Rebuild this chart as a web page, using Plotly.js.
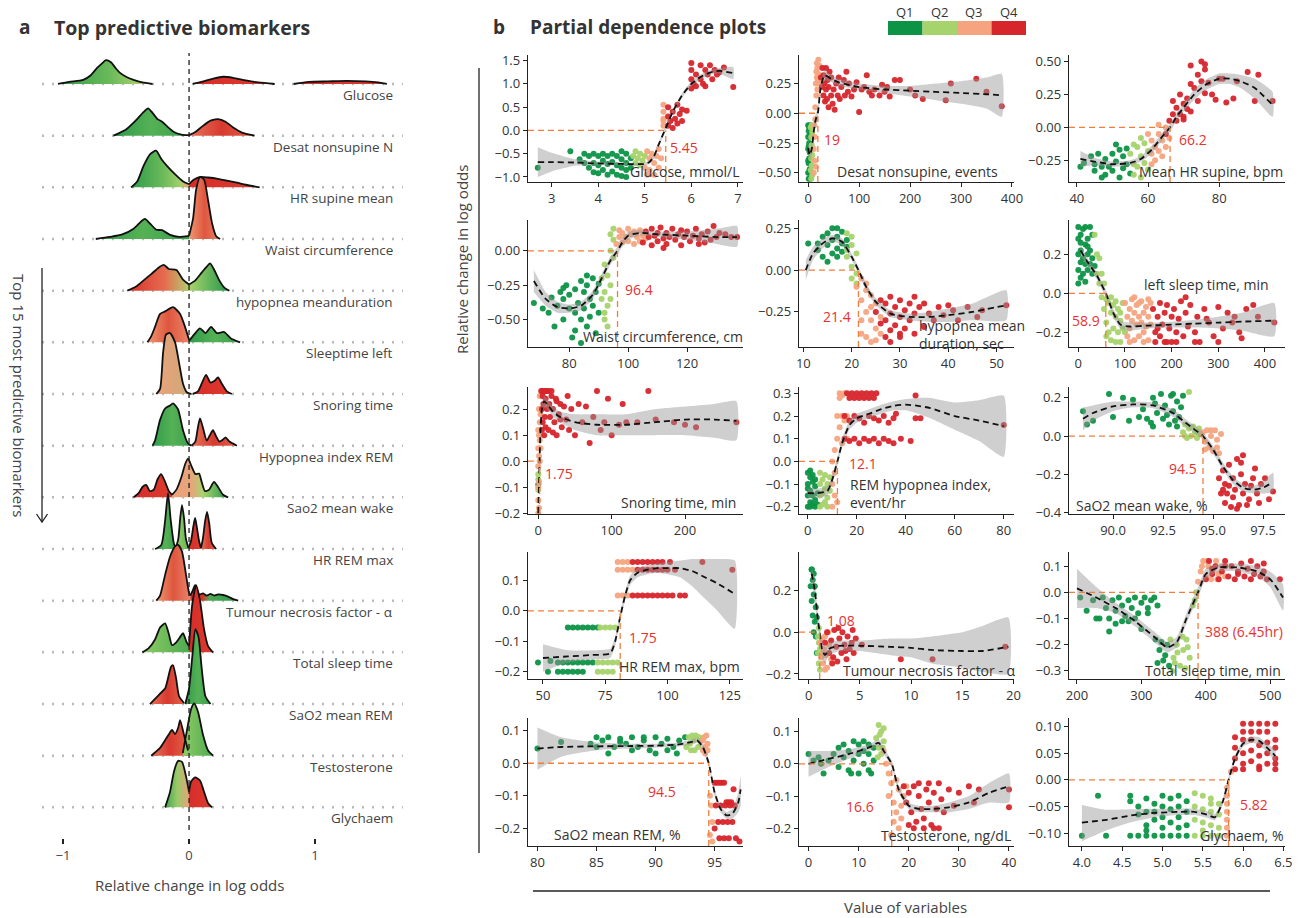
<!DOCTYPE html>
<html><head><meta charset="utf-8">
<script src="https://cdn.plot.ly/plotly-3.0.1.min.js"></script>
<style>html,body{margin:0;padding:0;background:#fff}#chart{width:1302px;height:918px}</style>
</head><body><div id="chart"></div>
<script>
// ---------------- DATA : panel a (ridgelines) ----------------
const biomarkers = ['Glucose','Desat nonsupine N','HR supine mean','Waist circumference','hypopnea meanduration','Sleeptime left','Snoring time','Hypopnea index REM','Sao2 mean wake','HR REM max','Tumour necrosis factor - \u03b1','Total sleep time','SaO2 mean REM','Testosterone','Glychaem'];
const ridgeTicks = [-1, 0, 1];
const r01a_x = [-1.04,-0.95,-0.84,-0.78,-0.73,-0.69,-0.66,-0.62,-0.58,-0.55,-0.5,-0.44,-0.37,-0.29];
const r01a_h = [0,0.04,0.08,0.17,0.31,0.4,0.46,0.42,0.3,0.22,0.14,0.08,0.03,0];
const r01b_x = [0.03,0.1,0.2,0.27,0.35,0.45,0.55,0.68];
const r01b_h = [0,0.04,0.11,0.14,0.12,0.07,0.03,0];
const r01c_x = [0.83,0.95,1.1,1.25,1.4,1.5,1.57];
const r01c_h = [0,0.04,0.05,0.06,0.05,0.03,0];
const r02a_x = [-0.6,-0.5,-0.42,-0.36,-0.325,-0.29,-0.25,-0.214,-0.17,-0.12,-0.06,0];
const r02a_h = [0,0.12,0.3,0.46,0.53,0.44,0.32,0.27,0.17,0.07,0.02,0.01];
const r02b_x = [0,0.05,0.1,0.17,0.23,0.29,0.35,0.42,0.52];
const r02b_h = [0.01,0.07,0.17,0.29,0.32,0.27,0.16,0.06,0];
const r03a_x = [-0.46,-0.41,-0.36,-0.31,-0.262,-0.22,-0.17,-0.11,-0.05,0];
const r03a_h = [0,0.12,0.42,0.64,0.71,0.55,0.4,0.25,0.12,0.06];
const r03b_x = [0,0.04,0.09,0.15,0.22,0.3,0.38,0.45,0.56];
const r03b_h = [0.06,0.15,0.2,0.19,0.17,0.13,0.09,0.05,0];
const r04a_x = [-0.74,-0.63,-0.53,-0.44,-0.38,-0.35,-0.31,-0.26,-0.214,-0.15,-0.08,0];
const r04a_h = [0,0.04,0.09,0.2,0.34,0.39,0.3,0.18,0.17,0.08,0.04,0.06];
const r04b_x = [0,0.032,0.056,0.087,0.119,0.151,0.183,0.214,0.246];
const r04b_h = [0.06,0.4,0.95,1.2,1.15,0.75,0.3,0.06,0];
const r05a_x = [-0.49,-0.42,-0.36,-0.3,-0.24,-0.2,-0.16,-0.1,-0.05,0];
const r05a_h = [0,0.08,0.2,0.32,0.45,0.5,0.42,0.4,0.22,0.12];
const r05b_x = [0,0.05,0.1,0.135,0.167,0.2,0.24,0.28,0.32];
const r05b_h = [0.12,0.2,0.35,0.45,0.53,0.4,0.2,0.06,0];
const r06a_x = [-0.33,-0.3,-0.27,-0.23,-0.19,-0.127,-0.071,-0.032,0];
const r06a_h = [0,0.12,0.3,0.55,0.6,0.68,0.55,0.3,0.05];
const r06b_x = [0,0.04,0.087,0.13,0.175,0.22,0.278,0.33,0.405];
const r06b_h = [0.03,0.15,0.27,0.18,0.3,0.18,0.2,0.08,0];
const r07a_x = [-0.26,-0.23,-0.206,-0.183,-0.151,-0.111,-0.079,-0.048,-0.016,0.02];
const r07a_h = [0,0.1,0.8,1.15,1.18,1.0,0.6,0.2,0.03,0];
const r07b_x = [0.03,0.07,0.1,0.135,0.17,0.2,0.23,0.26,0.3,0.34];
const r07b_h = [0,0.05,0.2,0.37,0.22,0.25,0.32,0.2,0.05,0];
const r08a_x = [-0.29,-0.27,-0.23,-0.19,-0.15,-0.127,-0.087,-0.048,-0.01,0.02];
const r08a_h = [0,0.1,0.5,0.72,0.78,0.82,0.7,0.3,0.05,0];
const r08b_x = [0.02,0.05,0.07,0.087,0.11,0.14,0.165,0.19,0.215,0.24,0.27,0.29,0.32,0.38];
const r08b_h = [0,0.08,0.35,0.53,0.35,0.1,0.2,0.3,0.18,0.08,0.12,0.16,0.08,0];
const r09a_x = [-0.44,-0.4,-0.37,-0.34,-0.31,-0.28,-0.25,-0.222,-0.19,-0.16,-0.135];
const r09a_h = [0,0.08,0.2,0.24,0.12,0.15,0.35,0.45,0.3,0.12,0.05];
const r09b_x = [-0.135,-0.1,-0.06,-0.03,-0.008,0.02,0.05,0.079,0.1,0.127,0.16,0.198,0.23,0.27,0.31];
const r09b_h = [0.05,0.15,0.4,0.65,0.75,0.6,0.45,0.46,0.3,0.12,0.15,0.3,0.2,0.05,0];
const r10a_x = [-0.27,-0.22,-0.19,-0.167,-0.145,-0.12,-0.105];
const r10a_h = [0,0.08,0.55,1.08,0.55,0.1,0.02];
const r10b_x = [-0.105,-0.085,-0.07,-0.056,-0.04,-0.025,-0.005];
const r10b_h = [0.02,0.2,0.6,0.85,0.6,0.2,0.02];
const r10c_x = [-0.005,0.015,0.035,0.048,0.06,0.08,0.095];
const r10c_h = [0.02,0.15,0.45,0.6,0.45,0.15,0.02];
const r10d_x = [0.095,0.11,0.128,0.143,0.16,0.18,0.215];
const r10d_h = [0.02,0.2,0.55,0.72,0.5,0.12,0];
const r11a_x = [-0.26,-0.23,-0.19,-0.151,-0.111,-0.087,-0.056,-0.024,0,0.01];
const r11a_h = [0,0.1,0.5,0.85,1.05,1.08,0.95,0.5,0.15,0.1];
const r11b_x = [0.01,0.03,0.048,0.065,0.08,0.11,0.14,0.17,0.2,0.23,0.27,0.31,0.35,0.39];
const r11b_h = [0.1,0.2,0.3,0.2,0.12,0.14,0.1,0.13,0.1,0.12,0.11,0.08,0.03,0];
const r12a_x = [-0.37,-0.32,-0.27,-0.23,-0.19,-0.16,-0.135,-0.1,-0.07,-0.048,-0.02,0.0];
const r12a_h = [0,0.08,0.25,0.48,0.56,0.35,0.14,0.2,0.3,0.37,0.2,0.12];
const r12b_x = [0.0,0.024,0.056,0.087,0.119,0.151,0.19];
const r12b_h = [0.12,0.9,1.3,1.0,0.45,0.12,0];
const r13a_x = [-0.31,-0.27,-0.23,-0.19,-0.167,-0.143,-0.127,-0.103,-0.079,-0.04];
const r13a_h = [0,0.1,0.2,0.3,0.5,0.72,0.75,0.5,0.15,0.02];
const r13b_x = [-0.03,0.0,0.025,0.05,0.075,0.1,0.13,0.17];
const r13b_h = [0,0.3,0.9,1.45,1.3,0.7,0.15,0];
const r14a_x = [-0.3,-0.23,-0.19,-0.151,-0.135,-0.111,-0.085,-0.071,-0.04,-0.008];
const r14a_h = [0,0.15,0.3,0.45,0.5,0.42,0.55,0.69,0.4,0.1];
const r14b_x = [-0.05,-0.016,0.016,0.04,0.071,0.111,0.151,0.19];
const r14b_h = [0.05,0.5,0.9,1.01,0.85,0.4,0.1,0];
const r15a_x = [-0.19,-0.151,-0.119,-0.087,-0.056,-0.024,0];
const r15a_h = [0,0.3,0.7,0.9,0.88,0.6,0.3];
const r15b_x = [0.0,0.016,0.048,0.087,0.119,0.151,0.183];
const r15b_h = [0.3,0.5,0.58,0.52,0.3,0.08,0];

// ---------------- DATA : panel b (partial dependence) ----------------
const quartiles = ['Q1','Q2','Q3','Q4'];
const variableLabels = ['Glucose, mmol/L','Desat nonsupine, events','Mean HR supine, bpm','Waist circumference, cm','hypopnea mean<br>duration, sec','left sleep time, min','Snoring time, min','REM hypopnea index,<br>event/hr','SaO2 mean wake, %','HR REM max, bpm','Tumour necrosis factor - \u03b1','Total sleep time, min','SaO2 mean REM, %','Testosterone, ng/dL','Glychaem, %'];
const thresholds = [5.45, 19, 66.2, 96.4, 21.4, 58.9, 1.75, 12.1, 94.5, 81, 1.08, 388, 94.5, 16.6, 5.82];
const thresholdLabels = ['5.45','19','66.2','96.4','21.4','58.9','1.75','12.1','94.5','1.75','1.08','388 (6.45hr)','94.5','16.6','5.82'];

// 1 Glucose
const glu_xt = [3,4,5,6,7], glu_yt = [-1,-0.5,0,0.5,1,1.5];
const glu_cx = [2.7,3.0,3.5,4.0,4.5,5.0,5.1,5.2,5.3,5.45,5.6,5.8,6.0,6.2,6.4,6.6,6.9];
const glu_cy = [-0.68,-0.68,-0.69,-0.71,-0.72,-0.72,-0.68,-0.55,-0.3,0.05,0.4,0.75,1.0,1.15,1.24,1.28,1.23];
const glu_lo = [-1.0,-0.88,-0.76,-0.75,-0.75,-0.75,-0.72,-0.6,-0.35,0.0,0.35,0.7,0.95,1.1,1.19,1.22,1.1];
const glu_hi = [-0.36,-0.48,-0.62,-0.67,-0.69,-0.69,-0.64,-0.5,-0.25,0.1,0.45,0.8,1.05,1.2,1.29,1.34,1.36];
const glu_q1x = [2.7,3.4,3.6,3.7,3.7,3.8,3.8,3.9,3.9,3.9,4.0,4.0,4.0,4.1,4.1,4.1,4.2,4.2,4.2,4.3,4.3,4.3,4.4,4.4,4.4,4.5,4.5,4.5,4.5,4.6,4.6,4.6,4.6,4.7,4.7];
const glu_q1y = [-0.8,-0.45,-0.62,-0.5,-0.7,-0.55,-0.8,-0.5,-0.7,-0.9,-0.55,-0.75,-0.92,-0.5,-0.65,-0.85,-0.55,-0.72,-0.95,-0.5,-0.68,-0.88,-0.55,-0.75,-0.95,-0.45,-0.62,-0.8,-0.98,-0.5,-0.7,-0.85,-1.0,-0.6,-0.8];
const glu_q2x = [4.75,4.8,4.8,4.85,4.9,4.9,4.95,5.0];
const glu_q2y = [-0.55,-0.45,-0.7,-0.6,-0.5,-0.75,-0.65,-0.55];
const glu_q3x = [5.0,5.05,5.05,5.1,5.1,5.15,5.2,5.2,5.25,5.3,5.3,5.35,5.4,5.4,5.4,5.4,5.4];
const glu_q3y = [-0.8,-0.45,-0.95,-0.6,-0.85,-0.5,-0.7,-0.95,-0.55,-0.4,-0.8,-0.6,0.1,0.25,0.4,0.55,0.2];
const glu_q4x = [5.5,5.5,5.5,5.55,5.6,5.6,5.65,5.7,5.7,5.75,5.8,5.8,5.9,6.0,6.0,6.0,6.0,6.05,6.1,6.1,6.2,6.2,6.25,6.3,6.3,6.35,6.4,6.45,6.5,6.55,6.6,6.7,6.9];
const glu_q4y = [0.1,0.3,0.5,0.2,0.05,0.4,0.25,0.15,0.55,0.35,0.2,0.45,0.42,0.9,1.1,1.3,1.45,1.0,1.2,0.95,1.4,1.1,1.0,1.3,0.95,1.2,1.4,1.1,1.3,1.2,1.25,1.35,0.93];

// 2 Desat nonsupine
const des_xt = [0,100,200,300,400], des_yt = [-0.5,-0.25,0,0.25];
const des_cx = [0,3,7,11,15,19,24,32,45,60,100,150,200,250,300,350,380];
const des_cy = [-0.29,-0.35,-0.3,-0.15,-0.05,0.0,0.2,0.32,0.29,0.26,0.22,0.2,0.19,0.18,0.17,0.16,0.15];
const des_lo = [-0.33,-0.4,-0.35,-0.2,-0.1,-0.04,0.15,0.28,0.26,0.23,0.2,0.17,0.14,0.11,0.08,0.04,-0.03];
const des_hi = [-0.25,-0.3,-0.25,-0.1,0.0,0.04,0.25,0.36,0.32,0.29,0.25,0.23,0.23,0.25,0.27,0.3,0.33];
const des_q1x = [0,0,0,0,0,1,1,1,1,2,2,2,2,3,3,3,4,4,4];
const des_q1y = [-0.1,-0.2,-0.3,-0.4,-0.5,-0.15,-0.28,-0.42,-0.55,-0.12,-0.25,-0.38,-0.5,-0.18,-0.33,-0.47,-0.1,-0.3,-0.55];
const des_q2x = [5,5,5,6,6,6,7,7,7,8,8,8];
const des_q2y = [-0.12,-0.3,-0.48,-0.2,-0.38,-0.55,-0.1,-0.27,-0.44,-0.16,-0.35,-0.52];
const des_q3x = [11,11,12,13,13,14,15,16,16,17,17,18,18,19,20,20,21,22,15,14];
const des_q3y = [-0.5,-0.3,-0.1,-0.4,-0.2,0.05,0.25,0.35,0.15,0.42,0.3,0.2,0.38,0.28,0.45,0.33,0.25,0.4,-0.45,-0.05];
const des_q4x = [25,27,28,30,30,32,33,35,35,37,38,40,40,42,45,45,48,50,52,55,58,60,62,65,70,72,75,78,80,85,90,95,100,105,110,115,120,125,130,140,145,150,155,160,170,180,200,210,225,270,280,330,350,380];
const des_q4y = [0.3,0.22,0.38,0.15,0.32,0.25,0.1,0.38,0.2,0.12,0.28,0.05,0.22,0.35,0.15,0.3,0.08,0.2,0.03,0.25,0.15,0.3,0.12,0.22,0.28,0.15,0.35,0.18,0.25,0.14,0.2,0.26,0.01,0.2,0.22,0.32,0.18,0.15,0.2,0.15,0.24,0.18,0.22,0.14,0.28,0.28,0.2,0.15,0.12,0.11,0.25,0.29,0.18,0.06];

// 3 Mean HR supine
const hrs_xt = [40,60,80], hrs_yt = [-0.25,0,0.25,0.5];
const hrs_cx = [41,45,50,55,58,61,64,66.2,68,70,73,76,80,83,86,90,95];
const hrs_cy = [-0.24,-0.26,-0.28,-0.27,-0.24,-0.17,-0.07,0.0,0.08,0.15,0.25,0.32,0.37,0.37,0.35,0.3,0.17];
const hrs_lo = [-0.3,-0.29,-0.3,-0.29,-0.26,-0.2,-0.1,-0.03,0.05,0.12,0.21,0.28,0.33,0.33,0.3,0.22,0.08];
const hrs_hi = [-0.18,-0.23,-0.26,-0.25,-0.22,-0.14,-0.04,0.03,0.11,0.18,0.29,0.36,0.41,0.41,0.4,0.37,0.27];
const hrs_q1x = [41,42,44,45,45,46,47,48,48,49,50,50,51,52,52,53,53,54,54,55,47,51];
const hrs_q1y = [-0.3,-0.27,-0.22,-0.28,-0.33,-0.2,-0.3,-0.24,-0.36,-0.3,-0.2,-0.33,-0.26,-0.17,-0.38,-0.22,-0.31,-0.16,-0.28,-0.35,-0.38,-0.13];
const hrs_q2x = [55,56,56,57,57,58,58,59,59,60,60,56,58];
const hrs_q2y = [-0.2,-0.28,-0.36,-0.15,-0.3,-0.22,-0.38,-0.12,-0.27,-0.18,-0.32,-0.13,-0.08];
const hrs_q3x = [60,61,61,62,62,63,63,64,64,65,65,66,61,63];
const hrs_q3y = [-0.05,-0.1,-0.2,-0.15,-0.25,-0.05,-0.18,-0.1,-0.22,0.0,-0.15,-0.08,-0.28,0.02];
const hrs_q4x = [65,66,67,67,68,68,69,69,70,70,71,71,72,72,73,74,74,75,75,76,76,77,78,79,80,81,82,84,85,88,90,91,95,72,76,70];
const hrs_q4y = [-0.05,0.05,0.1,0.2,0.15,0.05,0.25,0.1,0.18,0.08,0.14,0.22,0.12,0.47,0.3,0.4,0.2,0.5,0.35,0.44,0.26,0.34,0.25,0.21,0.37,0.37,0.19,0.22,0.35,0.42,0.2,0.4,0.2,0.33,0.48,0.06];

// 4 Waist circumference
const wst_xt = [80,100,120], wst_yt = [-0.5,-0.25,0];
const wst_cx = [68,72,76,80,84,88,91,94,96.4,98,100,104,110,120,130,137];
const wst_cy = [-0.22,-0.35,-0.41,-0.42,-0.4,-0.32,-0.2,-0.07,0.0,0.06,0.11,0.13,0.12,0.11,0.1,0.1];
const wst_lo = [-0.3,-0.4,-0.45,-0.45,-0.43,-0.35,-0.23,-0.1,-0.03,0.03,0.08,0.11,0.1,0.08,0.05,0.03];
const wst_hi = [-0.14,-0.3,-0.37,-0.39,-0.37,-0.29,-0.17,-0.04,0.03,0.09,0.14,0.15,0.14,0.14,0.16,0.18];
const wst_q1x = [68,71,73,74,75,76,77,78,78,79,80,80,81,82,82,83,84,84,85,85,86,86,87,87,88,88,89,89,90,90,84,82,86,78];
const wst_q1y = [-0.38,-0.42,-0.45,-0.34,-0.55,-0.4,-0.3,-0.5,-0.35,-0.25,-0.42,-0.32,-0.63,-0.28,-0.45,-0.38,-0.22,-0.5,-0.3,-0.42,-0.25,-0.55,-0.35,-0.48,-0.2,-0.4,-0.3,-0.6,-0.45,-0.24,-0.67,-0.58,-0.18,-0.27];
const wst_q2x = [91,91,92,92,92,93,93,93,94,94,94,95,95,95,92,94];
const wst_q2y = [-0.2,-0.35,-0.1,-0.3,-0.45,-0.18,-0.4,-0.55,-0.25,0.0,0.12,-0.05,0.08,0.16,-0.5,-0.35];
const wst_q3x = [96,97,97,98,98,99,100,100,101,102,102,103,104,104,105,106];
const wst_q3y = [0.05,0.1,0.15,0.06,0.13,0.1,0.16,0.07,0.12,0.05,0.14,0.1,0.07,0.15,0.11,0.09];
const wst_q4x = [105,106,107,108,108,109,110,110,111,112,113,113,114,115,116,117,118,119,120,121,122,123,124,125,126,127,128,130,131,133,135,137,112,118,124,129];
const wst_q4y = [0.06,0.14,0.1,0.04,0.16,0.11,0.07,0.13,0.17,0.09,0.05,0.13,0.1,0.16,0.08,0.12,0.04,0.1,0.14,0.07,0.11,0.16,0.09,0.12,0.06,0.14,0.08,0.1,0.13,0.12,0.1,0.1,0.02,0.15,0.05,0.18];

// 5 hypopnea mean duration
const hmd_xt = [10,20,30,40,50], hmd_yt = [-0.25,0,0.25];
const hmd_cx = [10.5,12,14,16,18,20,21.4,23,25,28,32,36,40,45,52];
const hmd_cy = [0.0,0.1,0.16,0.19,0.17,0.08,0.0,-0.1,-0.19,-0.26,-0.28,-0.28,-0.27,-0.25,-0.21];
const hmd_lo = [-0.06,0.06,0.13,0.17,0.15,0.06,-0.02,-0.12,-0.21,-0.28,-0.3,-0.31,-0.31,-0.3,-0.3];
const hmd_hi = [0.06,0.14,0.19,0.21,0.19,0.1,0.02,-0.08,-0.17,-0.24,-0.26,-0.25,-0.23,-0.2,-0.12];
const hmd_q1x = [11,13,14,14,15,15,16,16,16,17,17,17,18,18,18,19,19,15,13,17];
const hmd_q1y = [0.16,0.12,0.2,0.08,0.15,0.22,0.1,0.18,0.25,0.13,0.2,0.08,0.16,0.23,0.11,0.18,0.14,0.05,0.16,0.25];
const hmd_q2x = [19,19,20,20,20,21,21,21,20,19];
const hmd_q2y = [0.22,0.08,0.15,0.02,-0.05,0.1,-0.02,-0.08,0.2,0.12];
const hmd_q3x = [21,22,22,22,23,23,23,24,24,24,25,25,25,26,26,22,23,24];
const hmd_q3y = [-0.1,-0.05,-0.18,-0.3,-0.12,-0.25,-0.4,-0.15,-0.3,-0.43,-0.2,-0.35,-0.42,-0.28,-0.38,-0.38,-0.08,-0.22];
const hmd_q4x = [25,26,26,27,27,27,28,28,28,29,29,30,30,30,31,31,32,32,33,33,34,35,35,36,37,38,39,40,41,42,44,46,47,52,28,30,33];
const hmd_q4y = [-0.25,-0.18,-0.32,-0.2,-0.3,-0.4,-0.16,-0.26,-0.36,-0.22,-0.33,-0.18,-0.28,-0.4,-0.24,-0.35,-0.2,-0.3,-0.26,-0.38,-0.22,-0.2,-0.34,-0.26,-0.3,-0.22,-0.27,-0.21,-0.24,-0.3,-0.22,-0.28,-0.24,-0.21,-0.43,-0.38,-0.16];

// 6 left sleep time
const lst_xt = [0,100,200,300,400], lst_yt = [-0.2,0,0.2];
const lst_cx = [5,20,40,58.9,75,90,110,150,200,250,300,350,420];
const lst_cy = [0.22,0.16,0.09,0.0,-0.1,-0.16,-0.17,-0.165,-0.16,-0.155,-0.15,-0.145,-0.14];
const lst_lo = [0.19,0.14,0.07,-0.02,-0.12,-0.18,-0.19,-0.18,-0.175,-0.175,-0.18,-0.19,-0.22];
const lst_hi = [0.25,0.18,0.11,0.02,-0.08,-0.14,-0.15,-0.15,-0.145,-0.135,-0.12,-0.1,-0.05];
const lst_q1x = [0,0,0,0,0,5,5,5,5,10,10,10,15,15,15,15,20,20,20,25,25,25,30,30,35,5,20,30];
const lst_q1y = [0.34,0.28,0.2,0.12,0.05,0.3,0.22,0.16,0.08,0.33,0.18,0.1,0.34,0.25,0.15,0.06,0.28,0.2,0.12,0.34,0.22,0.15,0.3,0.18,0.14,0.26,0.24,0.1];
const lst_q2x = [35,40,40,45,45,50,50,55,55,60,60,65,65,70,70,75,75,80,80,85,85,90,90,95,95,60,70,80,90,100];
const lst_q2y = [0.3,0.2,0.1,0.18,0.05,0.1,-0.02,0.05,-0.08,-0.03,-0.15,-0.05,-0.2,-0.1,-0.24,-0.06,-0.18,-0.12,-0.25,-0.08,-0.2,-0.14,-0.25,-0.05,-0.18,-0.22,-0.02,-0.04,-0.1,-0.2];
const lst_q3x = [100,105,105,110,110,115,115,120,120,125,125,130,130,135,135,140,140,145,145,150,150,155,155,110,120,130,140,150];
const lst_q3y = [-0.05,-0.12,-0.22,-0.08,-0.18,-0.03,-0.14,-0.1,-0.24,-0.06,-0.16,-0.12,-0.22,-0.04,-0.15,-0.1,-0.2,-0.07,-0.17,-0.12,-0.24,-0.05,-0.16,-0.25,-0.02,-0.05,-0.25,-0.03];
const lst_q4x = [160,165,165,170,175,175,180,185,185,190,195,200,200,205,210,215,220,225,230,235,240,250,255,260,270,280,290,300,310,320,335,345,360,375,385,420,170,190,210,230,250,275,300,330,350];
const lst_q4y = [-0.08,-0.2,-0.25,-0.12,-0.05,-0.22,-0.16,-0.1,-0.25,-0.06,-0.18,-0.12,-0.25,-0.08,-0.2,-0.13,-0.04,-0.22,-0.1,-0.17,-0.06,-0.2,-0.12,-0.25,-0.08,-0.15,-0.22,-0.07,-0.18,-0.1,-0.12,-0.2,-0.08,-0.06,-0.12,-0.15,-0.18,-0.25,-0.25,-0.02,-0.25,-0.13,-0.25,-0.15,-0.23];

// 7 Snoring time
const snr_xt = [0,100,200], snr_yt = [-0.2,-0.1,0,0.1,0.2];
const snr_cx = [0,1,1.75,3,5,8,12,20,30,50,80,120,160,200,240,270];
const snr_cy = [-0.2,-0.08,0.0,0.12,0.2,0.23,0.22,0.19,0.17,0.15,0.14,0.14,0.15,0.16,0.16,0.155];
const snr_lo = [-0.22,-0.1,-0.02,0.1,0.18,0.21,0.2,0.17,0.15,0.12,0.1,0.1,0.1,0.1,0.09,0.08];
const snr_hi = [-0.18,-0.06,0.02,0.14,0.22,0.25,0.24,0.21,0.19,0.18,0.18,0.18,0.2,0.21,0.22,0.23];
const snr_q1x = [0];
const snr_q1y = [-0.09];
const snr_q2x = [0,0,0];
const snr_q2y = [-0.05,-0.07,-0.11];
const snr_q3x = [0,0,0,0,0,0,1,1,1,1,1,2,2,2,2,3,3,3];
const snr_q3y = [-0.2,-0.15,-0.1,-0.02,0.05,0.12,-0.18,-0.08,0.02,0.1,0.2,0.0,0.08,0.15,0.25,0.05,0.18,0.25];
const snr_q4x = [4,5,5,6,6,7,8,8,9,10,10,12,12,14,15,16,18,20,20,22,24,25,28,30,32,35,38,40,42,45,50,55,60,65,70,75,80,85,90,95,100,110,115,120,135,150,160,185,200,215,270,6,10,14,18,25,30];
const snr_q4y = [0.27,0.2,0.12,0.25,0.15,0.22,0.1,0.27,0.17,0.24,0.13,0.2,0.27,0.12,0.22,0.17,0.25,0.11,0.2,0.15,0.24,0.1,0.18,0.22,0.13,0.21,0.16,0.25,0.12,0.2,0.1,0.22,0.15,0.21,0.07,0.17,0.27,0.12,0.15,0.24,0.1,0.14,0.22,0.15,0.15,0.27,0.16,0.15,0.14,0.13,0.15,0.27,0.27,0.27,0.27,0.23,0.16];

// 8 REM hypopnea index
const rhi_xt = [0,20,40,60,80], rhi_yt = [-0.2,-0.1,0,0.1,0.2,0.3];
const rhi_cx = [0,4,8,10,12.1,14,17,20,25,30,35,40,45,50,60,70,80];
const rhi_cy = [-0.14,-0.14,-0.13,-0.08,0.0,0.08,0.16,0.19,0.21,0.23,0.245,0.25,0.245,0.235,0.2,0.18,0.155];
const rhi_lo = [-0.16,-0.16,-0.15,-0.1,-0.02,0.06,0.14,0.17,0.19,0.21,0.225,0.225,0.21,0.19,0.14,0.09,0.02];
const rhi_hi = [-0.12,-0.12,-0.11,-0.06,0.02,0.1,0.18,0.21,0.23,0.25,0.265,0.275,0.28,0.28,0.26,0.27,0.29];
const rhi_q1x = [0,0,0,0,0,1,1,1,1,1,2,2,2,2,3,3,3,3,4,4];
const rhi_q1y = [-0.05,-0.1,-0.15,-0.2,-0.12,-0.07,-0.13,-0.18,-0.04,-0.2,-0.09,-0.15,-0.19,-0.06,-0.11,-0.17,-0.2,-0.08,-0.14,-0.19];
const rhi_q2x = [5,5,5,5,6,6,6,7,7,7,8,8,8,9,9];
const rhi_q2y = [-0.05,-0.1,-0.15,-0.2,-0.08,-0.14,-0.19,-0.06,-0.12,-0.18,-0.1,-0.16,-0.2,-0.07,-0.13];
const rhi_q3x = [10,10,10,11,11,11,12,12,12,13,13,13,14,14,14,15,15,16,16];
const rhi_q3y = [-0.2,-0.1,0.0,-0.15,-0.05,0.05,-0.18,0.1,0.2,0.15,0.28,0.3,0.08,0.2,0.29,0.18,0.3,0.1,0.2];
const rhi_q4x = [15,17,19,21,23,25,27,29,31,33,35,38,42,15,17,19,21,23,25,27,29,31,33,35,36,44,16,18,20,22,24,26,28,17,19,21,23,25,27,80,46,44];
const rhi_q4y = [0.1,0.09,0.1,0.08,0.1,0.09,0.1,0.08,0.1,0.09,0.08,0.1,0.09,0.2,0.18,0.2,0.19,0.17,0.2,0.19,0.18,0.2,0.17,0.19,0.21,0.19,0.3,0.3,0.3,0.3,0.3,0.3,0.3,0.28,0.28,0.28,0.28,0.28,0.28,0.16,0.19,0.29];

// 9 SaO2 mean wake
const swk_xt = [90,92.5,95,97.5], swk_yt = [-0.4,-0.2,0,0.2];
const swk_cx = [88.5,89,90,91,92,93,93.5,94,94.5,95,95.5,96,96.5,97,97.5,98];
const swk_cy = [0.09,0.12,0.155,0.165,0.16,0.12,0.08,0.04,0.0,-0.07,-0.16,-0.23,-0.27,-0.28,-0.27,-0.24];
const swk_lo = [0.03,0.08,0.13,0.15,0.145,0.1,0.06,0.02,-0.02,-0.09,-0.18,-0.25,-0.29,-0.3,-0.3,-0.29];
const swk_hi = [0.15,0.16,0.18,0.18,0.175,0.14,0.1,0.06,0.02,-0.05,-0.14,-0.21,-0.25,-0.26,-0.24,-0.19];
const swk_q1x = [88.5,88.7,89,89.8,90,90.5,90.8,91,91.3,91.5,91.7,92,92,92.2,92.4,92.5,92.6,92.8,92.9,93,93,93.1,93.2,93.3,93.4,93.5,92.1,92.7,93.2,91.9];
const swk_q1y = [0.13,0.06,0.08,0.22,0.1,0.2,0.08,0.19,0.1,0.14,0.09,0.2,0.05,0.12,0.22,0.09,0.16,0.06,0.21,0.13,0.22,0.08,0.18,0.1,0.15,0.21,0.17,0.11,0.05,0.07];
const swk_q2x = [93.5,93.6,93.7,93.8,93.9,94,94.1,94.2,94.3,94.4,93.8,94.2,93.6];
const swk_q2y = [0.02,0.06,-0.01,0.04,0.0,0.05,0.02,-0.01,0.04,0.01,0.23,0.02,0.0];
const swk_q3x = [94.5,94.6,94.7,94.8,94.9,95,95.1,95.2,95.3,94.6,94.9,95.2,95.4];
const swk_q3y = [0.02,-0.03,0.03,-0.06,0.0,-0.08,0.03,-0.02,-0.09,-0.07,0.03,-0.06,0.01];
const swk_q4x = [95.3,95.4,95.5,95.6,95.6,95.7,95.8,95.9,96,96,96.1,96.2,96.3,96.4,96.5,96.5,96.6,96.8,97,97.1,97.2,97.4,97.6,97.8,98,95.5,95.8,96.2,96.7,97.3,96.4,96.9];
const swk_q4y = [-0.22,-0.3,-0.18,-0.35,-0.25,-0.3,-0.15,-0.37,-0.22,-0.32,-0.28,-0.12,-0.36,-0.2,-0.3,-0.1,-0.25,-0.33,-0.22,-0.17,-0.3,-0.25,-0.22,-0.33,-0.29,-0.28,-0.26,-0.38,-0.36,-0.35,-0.14,-0.26];

// 10 HR REM max
const hrm_xt = [50,75,100,125], hrm_yt = [-0.2,-0.1,0,0.1];
const hrm_cx = [50,60,70,77,79,81,83,85,88,92,96,100,105,110,115,120,127];
const hrm_cy = [-0.155,-0.15,-0.145,-0.14,-0.1,-0.02,0.05,0.1,0.125,0.135,0.14,0.14,0.14,0.13,0.11,0.09,0.055];
const hrm_lo = [-0.2,-0.17,-0.16,-0.155,-0.115,-0.035,0.035,0.085,0.11,0.12,0.125,0.12,0.11,0.08,0.04,0.0,-0.06];
const hrm_hi = [-0.11,-0.13,-0.13,-0.125,-0.085,-0.005,0.065,0.115,0.14,0.15,0.155,0.16,0.165,0.17,0.17,0.17,0.165];
const hrm_q1x = [60,62,64,66,68,70,72,48,53,56,58,60,62,64,66,68,70,52,56,58,60,62,64,66];
const hrm_q1y = [-0.055,-0.055,-0.055,-0.055,-0.055,-0.055,-0.055,-0.17,-0.165,-0.17,-0.17,-0.17,-0.17,-0.17,-0.17,-0.17,-0.17,-0.2,-0.2,-0.2,-0.2,-0.2,-0.2,-0.2];
const hrm_q2x = [73,75,77,79,72,74,76,78,80,72,74,76,78];
const hrm_q2y = [-0.055,-0.055,-0.055,-0.055,-0.17,-0.17,-0.17,-0.17,-0.17,-0.2,-0.2,-0.2,-0.2];
const hrm_q3x = [80,82,84,80,82,84,86,80,82,84];
const hrm_q3y = [0.05,0.05,0.05,0.135,0.135,0.135,0.135,0.16,0.16,0.16];
const hrm_q4x = [86,88,90,92,94,96,98,100,102,105,107,88,90,92,94,96,98,100,103,126,86,88,90,92,94,96,98,101,114];
const hrm_q4y = [0.05,0.05,0.05,0.05,0.05,0.05,0.05,0.05,0.05,0.05,0.05,0.135,0.135,0.135,0.135,0.135,0.135,0.135,0.135,0.135,0.16,0.16,0.16,0.16,0.16,0.16,0.16,0.16,0.16];

// 11 Tumour necrosis factor
const tnf_xt = [0,5,10,15,20], tnf_yt = [-0.2,0,0.2];
const tnf_cx = [0.3,0.6,0.9,1.08,1.3,1.6,2,3,5,8,10,12,15,17,19.5];
const tnf_cy = [0.28,0.2,0.06,0.0,-0.08,-0.11,-0.08,-0.065,-0.065,-0.07,-0.075,-0.085,-0.09,-0.09,-0.07];
const tnf_lo = [0.24,0.16,0.02,-0.04,-0.12,-0.15,-0.11,-0.09,-0.09,-0.11,-0.12,-0.15,-0.17,-0.19,-0.2];
const tnf_hi = [0.32,0.24,0.1,0.04,-0.04,-0.07,-0.05,-0.04,-0.04,-0.03,-0.03,-0.02,0.0,0.03,0.07];
const tnf_q1x = [0.2,0.3,0.3,0.4,0.4,0.5,0.5,0.6,0.6,0.7,0.7,0.8,0.8,0.5,0.3];
const tnf_q1y = [0.22,0.3,0.15,0.25,0.08,0.28,0.18,0.22,0.05,0.12,-0.02,0.07,-0.1,0.0,0.3];
const tnf_q2x = [0.9,0.9,1.0,1.0,1.1,1.1,1.2,1.0];
const tnf_q2y = [-0.02,-0.1,-0.05,-0.15,-0.08,-0.18,-0.12,0.02];
const tnf_q3x = [1.1,1.2,1.3,1.4,1.5,1.6,1.7,1.8,2.0,2.2,1.4,1.6,1.9];
const tnf_q3y = [-0.05,-0.12,-0.03,-0.15,-0.08,-0.02,-0.11,-0.17,-0.06,-0.13,-0.1,-0.18,0.0];
const tnf_q4x = [1.6,1.8,2.0,2.2,2.4,2.5,2.7,2.8,3.0,3.2,3.3,3.5,3.7,3.8,4.0,4.2,4.4,4.6,5.2,2.3,2.9,3.6,4.3,9.0,12.1,19.2];
const tnf_q4y = [-0.05,0.0,-0.1,-0.04,-0.12,0.01,-0.07,-0.14,-0.03,-0.1,0.0,-0.06,-0.13,-0.02,-0.08,-0.05,-0.1,-0.03,-0.06,-0.15,0.02,-0.09,0.01,-0.13,-0.13,-0.07];

// 12 Total sleep time
const tst_xt = [200,300,400,500], tst_yt = [-0.3,-0.2,-0.1,0,0.1];
const tst_cx = [200,230,260,290,320,340,355,370,388,400,420,450,480,500,520];
const tst_cy = [0.015,-0.02,-0.06,-0.11,-0.17,-0.21,-0.19,-0.1,0.0,0.07,0.095,0.095,0.08,0.05,-0.02];
const tst_lo = [-0.06,-0.06,-0.08,-0.13,-0.19,-0.23,-0.21,-0.12,-0.02,0.05,0.08,0.08,0.06,0.02,-0.07];
const tst_hi = [0.09,0.02,-0.04,-0.09,-0.15,-0.19,-0.17,-0.08,0.02,0.09,0.11,0.11,0.1,0.08,0.03];
const tst_q1x = [205,215,225,230,240,245,250,255,260,265,270,275,280,285,290,295,300,305,310,315,320,325,250,270,290,310,235,260,300,280,322,328,334,340,325,331,337,343];
const tst_q1y = [-0.02,-0.07,-0.03,-0.1,-0.02,-0.06,-0.1,-0.03,-0.07,-0.02,-0.05,-0.09,-0.03,-0.06,-0.02,-0.08,-0.04,-0.02,-0.06,-0.03,-0.02,-0.05,-0.15,-0.11,-0.1,-0.08,-0.1,-0.12,-0.14,-0.11,-0.18,-0.22,-0.26,-0.2,-0.27,-0.19,-0.24,-0.28];
const tst_q2x = [345,350,355,360,365,370,375,348,356,364,372,352,368,380,385,383];
const tst_q2y = [-0.18,-0.25,-0.2,-0.28,-0.22,-0.18,-0.25,-0.3,-0.23,-0.17,-0.21,-0.27,-0.29,-0.05,0.0,-0.03];
const tst_q3x = [388,392,396,400,404,408,412,416,420,425,430,394,402,410,418];
const tst_q3y = [0.04,0.08,0.12,0.06,0.1,0.05,0.09,0.12,0.07,0.1,0.06,0.1,0.12,0.08,0.05];
const tst_q4x = [400,405,410,415,420,425,430,435,440,445,450,455,460,465,470,475,480,485,490,495,410,430,450,470,490,515];
const tst_q4y = [0.05,0.12,0.07,0.1,0.05,0.08,0.12,0.06,0.1,0.05,0.08,0.11,0.06,0.09,0.05,0.07,0.1,0.06,0.08,0.05,0.09,0.1,0.07,0.12,0.11,0.05];

// 13 SaO2 mean REM
const srm_xt = [80,85,90,95], srm_yt = [-0.2,-0.1,0,0.1];
const srm_cx = [80,82,85,88,90,92,93,93.5,94,94.5,95,95.5,96,96.5,97,97.2];
const srm_cy = [0.045,0.05,0.052,0.053,0.054,0.058,0.065,0.07,0.05,0.0,-0.09,-0.14,-0.16,-0.155,-0.12,-0.08];
const srm_lo = [-0.02,0.02,0.04,0.045,0.048,0.052,0.058,0.062,0.04,-0.01,-0.1,-0.15,-0.17,-0.17,-0.15,-0.13];
const srm_hi = [0.11,0.08,0.064,0.06,0.06,0.064,0.072,0.078,0.06,0.01,-0.08,-0.13,-0.15,-0.14,-0.09,-0.04];
const srm_q1x = [80,82,84.5,85,85.5,86,86.5,87,87.5,88,88.5,89,89.5,90,90.5,91,91.5,92,86,88,90,91,89,87,85,92.5,91.8];
const srm_q1y = [0.045,0.065,0.06,0.08,0.07,0.08,0.05,0.075,0.06,0.08,0.05,0.07,0.04,0.08,0.06,0.075,0.05,0.07,0.03,0.04,0.03,0.04,0.08,0.065,0.05,0.08,0.03];
const srm_q2x = [92.6,92.8,93,93.2,93.4,93.6,93.8,92.9,93.3,93.7,93.1];
const srm_q2y = [0.05,0.08,0.04,0.07,0.085,0.05,0.07,0.06,0.04,0.08,0.085];
const srm_q3x = [94,94.1,94.2,94.3,94.4,94,94.2,94.4,94.6,94.7,94.8,94.6,94.8];
const srm_q3y = [0.04,0.08,0.05,0.085,0.06,0.07,0.03,0.04,-0.1,-0.13,-0.18,-0.22,-0.24];
const srm_q4x = [95,95.2,95.4,95.6,95.8,96,96.2,96.4,95.1,95.5,95.9,96.3,96.7,95.3,95.7,96.1,96.5,95.4,95.8,96.2,96.8,97.1,95,96.6];
const srm_q4y = [-0.06,-0.06,-0.06,-0.06,-0.06,-0.12,-0.12,-0.12,-0.13,-0.13,-0.13,-0.13,-0.13,-0.18,-0.18,-0.18,-0.18,-0.23,-0.23,-0.23,-0.23,-0.24,-0.2,-0.08];

// 14 Testosterone
const tes_xt = [0,10,20,30,40], tes_yt = [-0.2,-0.1,0,0.1];
const tes_cx = [0,4,8,12,14,15,16.6,18,20,22,25,28,32,36,40];
const tes_cy = [0.0,0.015,0.03,0.05,0.065,0.04,0.0,-0.08,-0.13,-0.14,-0.14,-0.135,-0.12,-0.09,-0.07];
const tes_lo = [-0.04,-0.01,0.015,0.04,0.055,0.03,-0.01,-0.09,-0.14,-0.15,-0.15,-0.15,-0.14,-0.12,-0.12];
const tes_hi = [0.04,0.04,0.045,0.06,0.075,0.05,0.01,-0.07,-0.12,-0.13,-0.13,-0.12,-0.1,-0.06,-0.03];
const tes_q1x = [0,1,2,3,4,5,6,6,7,7,8,8,9,9,10,10,10,11,11,11,12,12,12,13,13,2.5,8.5,12.5];
const tes_q1y = [0.03,0.01,0.02,-0.03,0.01,0.03,0.05,-0.01,0.02,0.06,-0.02,0.04,0.07,0.01,-0.03,0.03,0.06,0.0,0.04,0.07,-0.02,0.03,0.06,0.01,0.05,0.0,-0.03,-0.03];
const tes_q2x = [13.5,14,14,14.5,14.5,15,15,13.8,14.2,14.8];
const tes_q2y = [0.08,0.12,0.05,0.1,0.03,0.07,0.11,0.02,0.09,0.05];
const tes_q3x = [15,15.5,16,16,16.5,17,17,17.5,18,18,18.5,19,16.5,17.5,18.5,19.5];
const tes_q3y = [0.04,0.0,-0.03,-0.1,-0.06,-0.12,-0.18,-0.15,-0.08,-0.2,-0.13,-0.1,-0.22,-0.05,-0.17,-0.07];
const tes_q4x = [19,19.5,20,20.5,21,21.5,22,22.5,23,23.5,24,24.5,25,25.5,26,26.5,27,28,29,30,32,33,34,21,23,25,20,22,24,26,40,40];
const tes_q4y = [-0.07,-0.12,-0.09,-0.15,-0.07,-0.18,-0.1,-0.14,-0.2,-0.08,-0.12,-0.19,-0.09,-0.14,-0.2,-0.11,-0.15,-0.08,-0.13,-0.09,-0.07,-0.12,-0.08,-0.2,-0.17,-0.2,-0.19,-0.06,-0.06,-0.06,-0.08,-0.135];

// 15 Glychaem
const gly_xt = [4,4.5,5,5.5,6,6.5], gly_yt = [-0.1,-0.05,0,0.05,0.1];
const gly_cx = [4.0,4.3,4.6,4.9,5.2,5.4,5.55,5.65,5.75,5.82,5.9,6.0,6.1,6.2,6.3,6.4];
const gly_cy = [-0.08,-0.075,-0.067,-0.062,-0.06,-0.06,-0.065,-0.07,-0.04,0.0,0.04,0.068,0.075,0.073,0.06,0.045];
const gly_lo = [-0.115,-0.095,-0.08,-0.07,-0.066,-0.066,-0.071,-0.076,-0.046,-0.006,0.034,0.062,0.069,0.066,0.052,0.035];
const gly_hi = [-0.047,-0.056,-0.055,-0.054,-0.054,-0.054,-0.059,-0.064,-0.034,0.006,0.046,0.074,0.081,0.08,0.068,0.055];
const gly_q1x = [4.0,4.2,4.3,4.6,4.6,4.6,4.7,4.7,4.7,4.8,4.8,4.8,4.8,4.9,4.9,4.9,4.9,5.0,5.0,5.0,5.0,5.1,5.1,5.1,5.1,5.2,5.2,5.2,5.2,5.3,5.3,5.3,5.3,4.8,5.0,5.2];
const gly_q1y = [-0.105,-0.03,-0.105,-0.03,-0.04,-0.105,-0.05,-0.065,-0.105,-0.035,-0.06,-0.085,-0.105,-0.045,-0.06,-0.075,-0.105,-0.03,-0.05,-0.07,-0.105,-0.035,-0.055,-0.08,-0.105,-0.03,-0.05,-0.07,-0.105,-0.04,-0.06,-0.085,-0.105,-0.095,-0.09,-0.09];
const gly_q2x = [5.4,5.4,5.4,5.4,5.5,5.5,5.5,5.5,5.6,5.6,5.6,5.6,5.7,5.7,5.7,5.7,5.5,5.6];
const gly_q2y = [-0.025,-0.05,-0.075,-0.105,-0.03,-0.055,-0.08,-0.105,-0.035,-0.06,-0.085,-0.105,-0.045,-0.065,-0.09,-0.105,-0.095,-0.045];
const gly_q3x = [5.8,5.8,5.8,5.8,5.8,5.8,5.8,5.85];
const gly_q3y = [-0.03,-0.045,-0.06,-0.075,-0.09,-0.105,-0.015,0.015];
const gly_q4x = [5.9,5.9,5.9,5.9,6.0,6.0,6.0,6.0,6.0,6.1,6.1,6.1,6.1,6.1,6.2,6.2,6.2,6.2,6.2,6.3,6.3,6.3,6.3,6.3,6.4,6.4,6.4,6.4,6.4,6.0,6.2,6.4];
const gly_q4y = [0.02,0.04,0.06,0.08,0.03,0.05,0.075,0.09,0.105,0.035,0.055,0.075,0.09,0.105,0.025,0.045,0.065,0.09,0.105,0.03,0.05,0.07,0.09,0.105,0.02,0.04,0.06,0.075,0.105,0.02,0.02,0.03];

// ---------------- STYLE / LAYOUT ----------------
const FONT = "'Open Sans', 'Noto Sans', sans-serif";
const W = 1302, H = 918;
const fx = p => p / W, fy = p => 1 - p / H;
const QCOL = ['#0c9346', '#a6d36b', '#f5a47f', '#d6252b'];
const ORANGE = '#f07f3e', THRRED = '#e8312f';

const FILL = {
  g:   [[0,'#2f9b4a'],[0.5,'#55b155'],[1,'#3a9f4e']],
  g2s: [[0,'#2f9b4a'],[0.55,'#6bba5a'],[0.85,'#a4cf6c'],[1,'#eea07a']],
  r:   [[0,'#d72d29'],[1,'#dc3b2f']],
  rs:  [[0,'#e7735a'],[0.5,'#d83a30'],[1,'#e26248']],
  sr:  [[0,'#ee9873'],[0.5,'#df563e'],[1,'#e98469']],
  s:   [[0,'#eaa47c'],[0.5,'#dca479'],[1,'#c6b27a']],
  r2l: [[0,'#d8302b'],[0.6,'#e56c50'],[1,'#b3cf6e']],
  l2g: [[0,'#a9d46c'],[1,'#22954a']],
  s2g: [[0,'#f0a07b'],[0.35,'#e6a67b'],[0.55,'#a8d36c'],[1,'#23964a']],
  l:   [[0,'#9fd06a'],[1,'#5fb557']],
  r2g: [[0,'#d8302b'],[0.25,'#d8302b'],[0.4,'#4ca954'],[1,'#2f9a48']],
  lg:  [[0,'#8ecb64'],[1,'#4dab51']],
  gs:  [[0,'#3fa24f'],[0.5,'#9acb69'],[1,'#e9a07a']]
};
const ridgeLobes = [
  [[r01a_x,r01a_h,'g2s'],[r01b_x,r01b_h,'r'],[r01c_x,r01c_h,'r']],
  [[r02a_x,r02a_h,'g'],[r02b_x,r02b_h,'rs']],
  [[r03a_x,r03a_h,'g2s'],[r03b_x,r03b_h,'r']],
  [[r04a_x,r04a_h,'g'],[r04b_x,r04b_h,'sr']],
  [[r05a_x,r05a_h,'r2l'],[r05b_x,r05b_h,'l2g']],
  [[r06a_x,r06a_h,'sr'],[r06b_x,r06b_h,'g']],
  [[r07a_x,r07a_h,'s'],[r07b_x,r07b_h,'r']],
  [[r08a_x,r08a_h,'g'],[r08b_x,r08b_h,'rs']],
  [[r09a_x,r09a_h,'r'],[r09b_x,r09b_h,'s2g']],
  [[r10a_x,r10a_h,'g'],[r10b_x,r10b_h,'l'],[r10c_x,r10c_h,'r'],[r10d_x,r10d_h,'rs']],
  [[r11a_x,r11a_h,'sr'],[r11b_x,r11b_h,'r2g']],
  [[r12a_x,r12a_h,'lg'],[r12b_x,r12b_h,'r']],
  [[r13a_x,r13a_h,'rs'],[r13b_x,r13b_h,'g']],
  [[r14a_x,r14a_h,'rs'],[r14b_x,r14b_h,'lg']],
  [[r15a_x,r15a_h,'gs'],[r15b_x,r15b_h,'r']]
];

const PANELS = [
  {cx:glu_cx,cy:glu_cy,lo:glu_lo,hi:glu_hi,q:[[glu_q1x,glu_q1y],[glu_q2x,glu_q2y],[glu_q3x,glu_q3y],[glu_q4x,glu_q4y]],xt:glu_xt,yt:glu_yt,xr:[2.49,7.11],yr:[-1.108,1.62],xf:'',yf:'.1f',tp:[5.5,-0.36,'left'],np:[0.995,0.085,'right']},
  {cx:des_cx,cy:des_cy,lo:des_lo,hi:des_hi,q:[[des_q1x,des_q1y],[des_q2x,des_q2y],[des_q3x,des_q3y],[des_q4x,des_q4y]],xt:des_xt,yt:des_yt,xr:[-18,404],yr:[-0.578,0.49],xf:'',yf:'.2f',tp:[28,-0.22,'left'],np:[0.935,0.085,'right']},
  {cx:hrs_cx,cy:hrs_cy,lo:hrs_lo,hi:hrs_hi,q:[[hrs_q1x,hrs_q1y],[hrs_q2x,hrs_q2y],[hrs_q3x,hrs_q3y],[hrs_q4x,hrs_q4y]],xt:hrs_xt,yt:hrs_yt,xr:[37.8,98.5],yr:[-0.415,0.55],xf:'',yf:'.2f',tp:[68.2,-0.09,'left'],np:[1.0,0.085,'right']},
  {cx:wst_cx,cy:wst_cy,lo:wst_lo,hi:wst_hi,q:[[wst_q1x,wst_q1y],[wst_q2x,wst_q2y],[wst_q3x,wst_q3y],[wst_q4x,wst_q4y]],xt:wst_xt,yt:wst_yt,xr:[66,139],yr:[-0.70,0.224],xf:'',yf:'.2f',tp:[98.3,-0.285,'left'],np:[1.01,0.08,'right']},
  {cx:hmd_cx,cy:hmd_cy,lo:hmd_lo,hi:hmd_hi,q:[[hmd_q1x,hmd_q1y],[hmd_q2x,hmd_q2y],[hmd_q3x,hmd_q3y],[hmd_q4x,hmd_q4y]],xt:hmd_xt,yt:hmd_yt,xr:[9.1,53.6],yr:[-0.46,0.30],xf:'',yf:'.2f',tp:[20.3,-0.28,'right'],np:[0.55,0.1,'left']},
  {cx:lst_cx,cy:lst_cy,lo:lst_lo,hi:lst_hi,q:[[lst_q1x,lst_q1y],[lst_q2x,lst_q2y],[lst_q3x,lst_q3y],[lst_q4x,lst_q4y]],xt:lst_xt,yt:lst_yt,xr:[-20,443],yr:[-0.275,0.376],xf:'',yf:'.1f',tp:[50,-0.14,'right'],np:[0.935,0.49,'right']},
  {cx:snr_cx,cy:snr_cy,lo:snr_lo,hi:snr_hi,q:[[snr_q1x,snr_q1y],[snr_q2x,snr_q2y],[snr_q3x,snr_q3y],[snr_q4x,snr_q4y]],xt:snr_xt,yt:snr_yt,xr:[-14,279],yr:[-0.203,0.285],xf:'',yf:'.1f',tp:[6,-0.047,'left'],np:[0.975,0.09,'right']},
  {cx:rhi_cx,cy:rhi_cy,lo:rhi_lo,hi:rhi_hi,q:[[rhi_q1x,rhi_q1y],[rhi_q2x,rhi_q2y],[rhi_q3x,rhi_q3y],[rhi_q4x,rhi_q4y]],xt:rhi_xt,yt:rhi_yt,xr:[-3.6,84.2],yr:[-0.232,0.328],xf:'',yf:'.1f',tp:[16,-0.01,'left'],np:[0.226,0.16,'left']},
  {cx:swk_cx,cy:swk_cy,lo:swk_lo,hi:swk_hi,q:[[swk_q1x,swk_q1y],[swk_q2x,swk_q2y],[swk_q3x,swk_q3y],[swk_q4x,swk_q4y]],xt:swk_xt,yt:swk_yt,xr:[87.8,98.6],yr:[-0.407,0.256],xf:'.1f',yf:'.1f',tp:[94.3,-0.168,'right'],np:[0.025,0.07,'left']},
  {cx:hrm_cx,cy:hrm_cy,lo:hrm_lo,hi:hrm_hi,q:[[hrm_q1x,hrm_q1y],[hrm_q2x,hrm_q2y],[hrm_q3x,hrm_q3y],[hrm_q4x,hrm_q4y]],xt:hrm_xt,yt:hrm_yt,xr:[44,130.3],yr:[-0.224,0.193],xf:'',yf:'.1f',tp:[83.7,-0.088,'left'],np:[0.995,0.1,'right']},
  {cx:tnf_cx,cy:tnf_cy,lo:tnf_lo,hi:tnf_hi,q:[[tnf_q1x,tnf_q1y],[tnf_q2x,tnf_q2y],[tnf_q3x,tnf_q3y],[tnf_q4x,tnf_q4y]],xt:tnf_xt,yt:tnf_yt,xr:[-0.94,20.05],yr:[-0.224,0.384],xf:'',yf:'.1f',tp:[1.55,0.055,'left'],np:[1.02,0.065,'right']},
  {cx:tst_cx,cy:tst_cy,lo:tst_lo,hi:tst_hi,q:[[tst_q1x,tst_q1y],[tst_q2x,tst_q2y],[tst_q3x,tst_q3y],[tst_q4x,tst_q4y]],xt:tst_xt,yt:tst_yt,xr:[187.6,523],yr:[-0.331,0.154],xf:'',yf:'.1f',tp:[395,-0.148,'left'],np:[0.99,0.065,'right']},
  {cx:srm_cx,cy:srm_cy,lo:srm_lo,hi:srm_hi,q:[[srm_q1x,srm_q1y],[srm_q2x,srm_q2y],[srm_q3x,srm_q3y],[srm_q4x,srm_q4y]],xt:srm_xt,yt:srm_yt,xr:[79.2,97.4],yr:[-0.254,0.139],xf:'',yf:'.1f',tp:[91.9,-0.087,'right'],np:[0.11,0.087,'left']},
  {cx:tes_cx,cy:tes_cy,lo:tes_lo,hi:tes_hi,q:[[tes_q1x,tes_q1y],[tes_q2x,tes_q2y],[tes_q3x,tes_q3y],[tes_q4x,tes_q4y]],xt:tes_xt,yt:tes_yt,xr:[-1.9,41],yr:[-0.255,0.142],xf:'',yf:'.1f',tp:[13.5,-0.134,'right'],np:[0.995,0.08,'right']},
  {cx:gly_cx,cy:gly_cy,lo:gly_lo,hi:gly_hi,q:[[gly_q1x,gly_q1y],[gly_q2x,gly_q2y],[gly_q3x,gly_q3y],[gly_q4x,gly_q4y]],xt:gly_xt,yt:gly_yt,xr:[3.84,6.52],yr:[-0.124,0.116],xf:'.1f',yf:'.2f',tp:[5.94,-0.047,'left'],np:[1.0,0.08,'right']}
];
const COL_L = [528, 799, 1069], COL_R = [743, 1014, 1285];
const ROW_T = [55, 220, 387, 552, 718], ROW_B = [182, 347, 514, 679, 846];

const data = [], shapes = [], ann = [];
const layout = {
  width: W, height: H, margin: {l:0, r:0, t:0, b:0},
  paper_bgcolor: '#ffffff', plot_bgcolor: 'rgba(0,0,0,0)',
  showlegend: false, font: {family: FONT, color: '#333'},
  shapes: shapes, annotations: ann
};

// ---- panel a ----
const RX = [-1.167, 1.698];
layout.xaxis = {domain:[fx(42), fx(403)], range:RX, anchor:'y', tickvals:ridgeTicks, ticks:'outside', ticklen:5, tickwidth:2.5, tickcolor:'#222',
  showline:false, zeroline:false, showgrid:false, tickfont:{size:13, color:'#444', family:FONT}, fixedrange:true};
layout.yaxis = {domain:[fy(838), fy(30)], range:[-14.593, 1.045], anchor:'x', visible:false, fixedrange:true};
biomarkers.forEach((name, i) => {
  shapes.push({type:'line', xref:'x', yref:'y', x0:RX[0], x1:RX[1], y0:-i, y1:-i, layer:'below', line:{color:'#b9b9b9', width:2.5, dash:'2px,8px'}});
});
ridgeLobes.forEach((lobes, i) => {
  const b = -i;
  lobes.forEach(([lx, lh, key]) => {
    const sc = FILL[key];
    data.push({type:'scatter', mode:'lines', xaxis:'x', yaxis:'y', hoverinfo:'skip',
      x: lx.concat(lx.slice().reverse()), y: lh.map(h => b + h).concat(lx.map(() => b)),
      fill:'toself', fillcolor: sc[Math.floor(sc.length/2)][1],
      fillgradient:{type:'horizontal', colorscale: sc},
      line:{width:0, shape:'spline', smoothing:0.6}});
  });
  lobes.forEach(([lx, lh]) => {
    data.push({type:'scatter', mode:'lines', xaxis:'x', yaxis:'y', hoverinfo:'skip',
      x: lx, y: lh.map(h => b + h), line:{color:'#111', width:1.8, shape:'spline', smoothing:0.6}});
  });
});
biomarkers.forEach((name, i) => {
  ann.push({xref:'x', yref:'y', x:1.635, y:-i - 0.21, text:name, xanchor:'right', yanchor:'middle', showarrow:false,
    font:{size:13.5, color:'#444', family:FONT}});
});
shapes.push({type:'line', xref:'x', yref:'y', x0:0, x1:0, y0:-14.44, y1:0.6, layer:'above', line:{color:'#222', width:1.3, dash:'5px,4px'}});

// ---- panel b ----
PANELS.forEach((P, k) => {
  const n = k + 2, xa = 'x' + n, ya = 'y' + n;
  const r = Math.floor(k / 3), c = k % 3;
  const axBase = {showline:true, linecolor:'#222', linewidth:1.2, ticks:'outside', ticklen:4, tickwidth:1, tickcolor:'#222',
    showgrid:false, zeroline:false, fixedrange:true, tickfont:{size:13, color:'#333', family:FONT}};
  layout['xaxis' + n] = Object.assign({}, axBase, {domain:[fx(COL_L[c]), fx(COL_R[c])], range:P.xr, anchor:ya, tickvals:P.xt, tickformat:P.xf});
  layout['yaxis' + n] = Object.assign({}, axBase, {domain:[fy(ROW_B[r]), fy(ROW_T[r])], range:P.yr, anchor:xa, tickvals:P.yt, tickformat:P.yf});
  P.q.forEach(([qx, qy], qi) => {
    data.push({type:'scatter', mode:'markers', xaxis:xa, yaxis:ya, hoverinfo:'skip', x:qx, y:qy,
      marker:{size:6, color:QCOL[qi], opacity:0.95, line:{width:0}}});
  });
  data.push({type:'scatter', mode:'lines', xaxis:xa, yaxis:ya, hoverinfo:'skip',
    x: P.cx.concat(P.cx.slice().reverse()), y: P.hi.concat(P.lo.slice().reverse()),
    fill:'toself', fillcolor:'rgba(150,148,148,0.45)', line:{width:0, shape:'spline', smoothing:0.5}});
  data.push({type:'scatter', mode:'lines', xaxis:xa, yaxis:ya, hoverinfo:'skip', x:P.cx, y:P.cy,
    line:{color:'#111', width:1.8, dash:'6px,4px', shape:'spline', smoothing:0.6}});
  const t = thresholds[k];
  shapes.push({type:'line', xref:xa, yref:ya, x0:P.xr[0], x1:t, y0:0, y1:0, layer:'above', line:{color:ORANGE, width:1.3, dash:'6px,4px'}});
  shapes.push({type:'line', xref:xa, yref:ya, x0:t, x1:t, y0:P.yr[0], y1:0, layer:'above', line:{color:ORANGE, width:1.3, dash:'6px,4px'}});
  ann.push({xref:xa, yref:ya, x:P.tp[0], y:P.tp[1], text:thresholdLabels[k], xanchor:P.tp[2], yanchor:'middle', showarrow:false,
    font:{size:14, color:THRRED, family:FONT}});
  ann.push({xref:xa + ' domain', yref:ya + ' domain', x:P.np[0], y:P.np[1], text:variableLabels[k], xanchor:P.np[2], yanchor:'middle',
    align:'left', showarrow:false, font:{size:14, color:'#333', family:FONT}});
});

// ---- titles, decorations ----
const pAnn = (px, py, text, opt) => ann.push(Object.assign({xref:'paper', yref:'paper', x:fx(px), y:fy(py), text:text, showarrow:false,
  xanchor:'left', yanchor:'middle', font:{size:15, color:'#444', family:FONT}}, opt || {}));
pAnn(17, 27, '<b>a</b>', {font:{size:19, color:'#333', family:FONT}});
pAnn(52, 27, '<b>Top predictive biomarkers</b>', {font:{size:19.5, color:'#333', family:FONT}});
pAnn(491, 27, '<b>b</b>', {font:{size:19, color:'#333', family:FONT}});
pAnn(528, 27, '<b>Partial dependence plots</b>', {font:{size:19, color:'#333', family:FONT}});
pAnn(189, 885, 'Relative change in log odds', {xanchor:'center'});
pAnn(905, 907, 'Value of variables', {xanchor:'center'});
pAnn(462, 260, 'Relative change in log odds', {xanchor:'center', textangle:-90});
pAnn(19, 395, 'Top 15 most predictive biomarkers', {xanchor:'center', textangle:90});
shapes.push({type:'line', xref:'paper', yref:'paper', x0:fx(479), x1:fx(479), y0:fy(68), y1:fy(853), line:{color:'#222', width:1.3}});
shapes.push({type:'line', xref:'paper', yref:'paper', x0:fx(533), x1:fx(1270), y0:fy(891), y1:fy(891), line:{color:'#222', width:1.3}});
shapes.push({type:'line', xref:'paper', yref:'paper', x0:fx(42), x1:fx(42), y0:fy(268), y1:fy(522), line:{color:'#222', width:1.3}});
shapes.push({type:'path', xref:'paper', yref:'paper', path:`M ${fx(36.5)} ${fy(514)} L ${fx(42)} ${fy(522)} L ${fx(47.5)} ${fy(514)}`, line:{color:'#222', width:1.3}});
// quartile legend
const QX = [888, 922.5, 957, 991.5];
quartiles.forEach((q, i) => {
  shapes.push({type:'rect', xref:'paper', yref:'paper', x0:fx(QX[i]), x1:fx(QX[i] + 34.5), y0:fy(35), y1:fy(21), fillcolor:QCOL[i], line:{width:0}});
  pAnn(QX[i] + 17, 12, q, {xanchor:'center', font:{size:13, color:'#333', family:FONT}});
});

Plotly.newPlot('chart', data, layout, {displayModeBar:false, staticPlot:true});
</script></body></html>
